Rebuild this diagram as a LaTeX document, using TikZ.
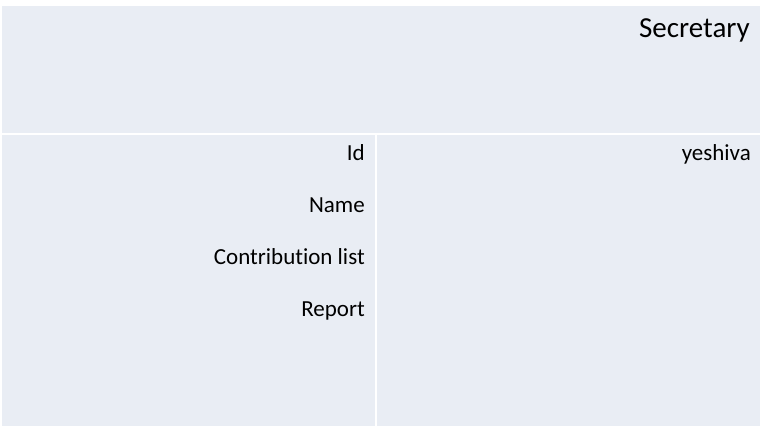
\documentclass[tikz,border=0pt]{standalone}
\usepackage{fontspec}
\setmainfont{Carlito}[Ligatures=NoCommon]
\definecolor{panel}{HTML}{E9EDF4}
\begin{document}
\begin{tikzpicture}[x=1pt,y=-1pt,
  lbl/.style={anchor=base east,inner sep=0pt,font=\fontsize{23}{27}\selectfont},
  sep/.style={draw=white,line width=2pt}]
\useasboundingbox (0,0) rectangle (762,426);
\fill[white] (0,0) rectangle (762,426);
\fill[panel] (2,6) rectangle (760,426);
\coordinate (hl) at (2,134);
\coordinate (hr) at (760,134);
\coordinate (vt) at (376,134);
\coordinate (vb) at (376,426);
\draw[sep] (hl) -- (hr);
\draw[sep] (vt) -- (vb);
\node[lbl,font=\fontsize{29}{33}\selectfont] (sec) at (750,37) {Secretary};
\node[lbl] (id) at (365,160) {Id};
\node[lbl] (name) at (365,212) {Name};
\node[lbl] (contr) at (365,264) {Contribution list};
\node[lbl] (rep) at (365,316) {Report};
\node[lbl] (yes) at (751,160) {yeshiva};
\end{tikzpicture}
\end{document}
